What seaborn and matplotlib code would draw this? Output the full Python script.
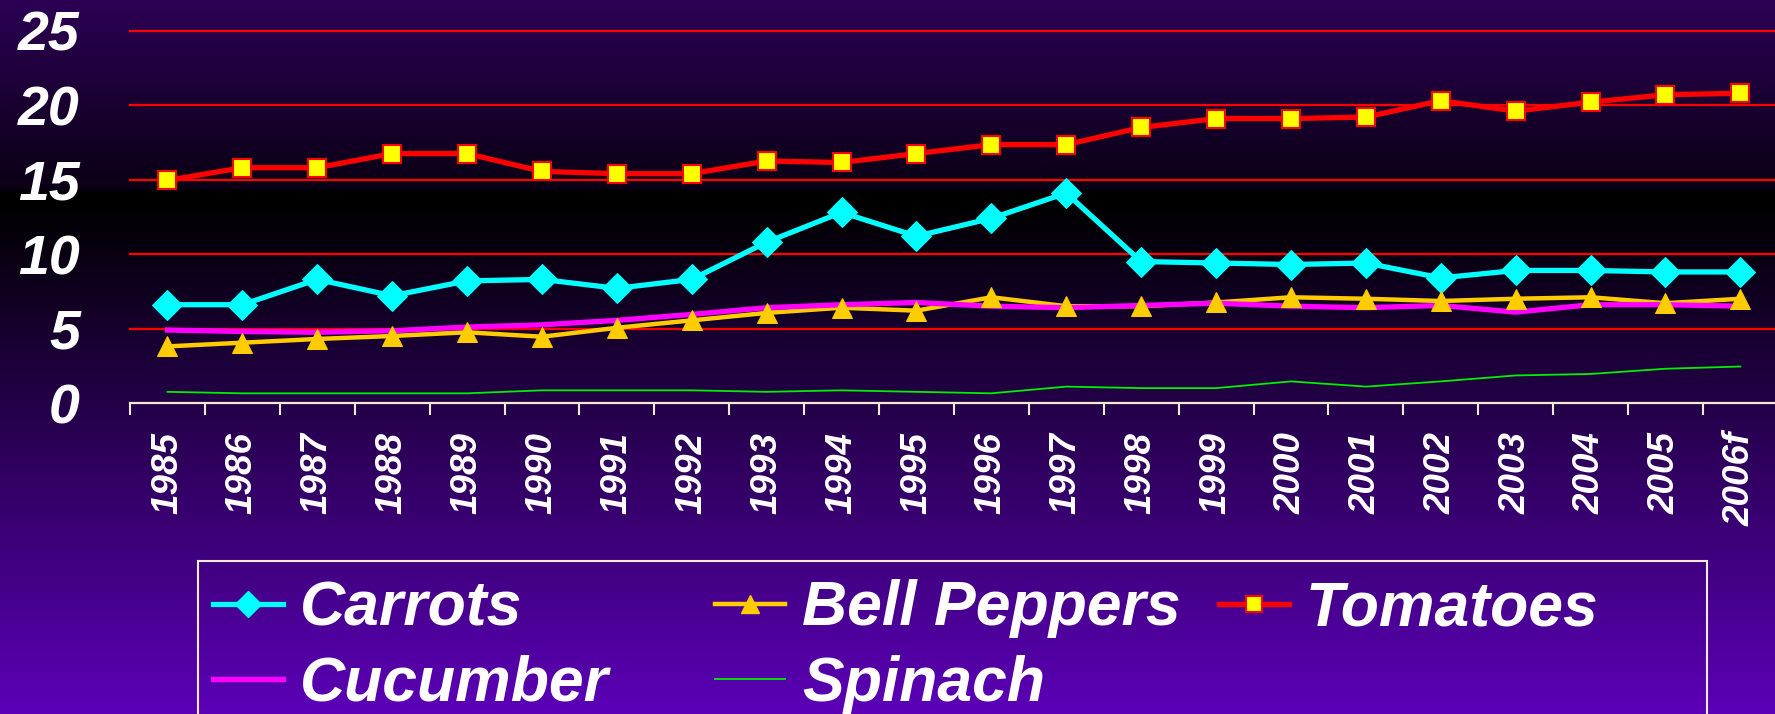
import numpy as np
import pandas as pd
import matplotlib
matplotlib.use("Agg")
import matplotlib.pyplot as plt
from matplotlib.lines import Line2D
from matplotlib.patches import Rectangle
from matplotlib.font_manager import FontProperties
import seaborn as sns

# ---- data ----
years = ["1985", "1986", "1987", "1988", "1989", "1990", "1991", "1992", "1993", "1994", "1995",
         "1996", "1997", "1998", "1999", "2000", "2001", "2002", "2003", "2004", "2005", "2006f"]
carrots = [6.6, 6.6, 8.3, 7.2, 8.2, 8.3, 7.7, 8.3, 10.8, 12.8, 11.2, 12.4, 14.1, 9.5,
           9.4, 9.3, 9.4, 8.4, 8.9, 8.9, 8.8, 8.8]
bell_peppers = [3.8, 4.05, 4.3, 4.5, 4.75, 4.45, 5.05, 5.55, 6.05, 6.4, 6.2, 7.1, 6.5, 6.5,
                6.75, 7.1, 7.0, 6.85, 7.0, 7.1, 6.7, 7.0]
tomatoes = [14.95, 15.8, 15.8, 16.75, 16.75, 15.55, 15.4, 15.4, 16.25, 16.15, 16.75, 17.35,
            17.35, 18.5, 19.1, 19.1, 19.2, 20.3, 19.6, 20.2, 20.7, 20.8]
cucumber = [4.9, 4.8, 4.75, 4.85, 5.1, 5.25, 5.55, 5.95, 6.4, 6.6, 6.75, 6.5, 6.4, 6.55,
            6.7, 6.5, 6.4, 6.55, 6.1, 6.6, 6.6, 6.5]
spinach = [0.75, 0.65, 0.65, 0.65, 0.65, 0.85, 0.85, 0.85, 0.75, 0.85, 0.75, 0.65, 1.1, 1.0,
           1.0, 1.45, 1.1, 1.45, 1.85, 1.95, 2.3, 2.45]
y_ticks = [0, 5, 10, 15, 20, 25]

# ---- figure ----
W, H, DPI = 1775, 714, 100
fig = plt.figure(figsize=(W / DPI, H / DPI), dpi=DPI)

# background gradient
bg = fig.add_axes([0, 0, 1, 1], zorder=-10)
c_top = np.array([0x2c, 0x00, 0x54]) / 255
c_mid = np.array([0x0a, 0x00, 0x14]) / 255
c_bot = np.array([0x5c, 0x00, 0xb8]) / 255
img = np.zeros((H, 1, 3))
for r in range(H):
    if r < 190:
        t = r / 190
        img[r, 0] = c_top * (1 - t) + c_mid * t
    elif r < 205:
        img[r, 0] = 0
    else:
        t = (r - 205) / (H - 205)
        img[r, 0] = c_bot * t
bg.imshow(img, aspect="auto", extent=(0, 1, 0, 1))
bg.set_axis_off()

left = 130 / W
step = 74.9 / W
bottom = 1 - 403 / H
top = 1 - 30.7 / H
ax = fig.add_axes([left, bottom, step * 22, top - bottom])
ax.set_facecolor("none")

x = np.arange(len(years))
df = pd.DataFrame({"x": x, "Carrots": carrots, "Bell Peppers": bell_peppers,
                   "Tomatoes": tomatoes, "Cucumber": cucumber, "Spinach": spinach})

CYAN, GOLD, RED, MAG, GREEN = "#00FFFF", "#FFCC00", "#FF0000", "#FF00FF", "#00F000"

sns.lineplot(data=df, x="x", y="Carrots", ax=ax, color=CYAN, lw=3.8, marker="D",
             markersize=15, markeredgecolor=CYAN, zorder=3)
sns.lineplot(data=df, x="x", y="Bell Peppers", ax=ax, color=GOLD, lw=3.2, zorder=2)
sns.lineplot(data=df, x="x", y="Tomatoes", ax=ax, color=RED, lw=3.8, marker="s",
             markersize=13, markerfacecolor="#FFFF00", markeredgecolor=RED,
             markeredgewidth=1.5, zorder=3)
sns.lineplot(data=df, x="x", y="Cucumber", ax=ax, color=MAG, lw=3.8, zorder=2.5)
sns.lineplot(data=df, x="x", y="Bell Peppers", ax=ax, color=GOLD, lw=0, marker="^",
             markersize=15, markeredgecolor=GOLD, zorder=3.5)
sns.lineplot(data=df, x="x", y="Spinach", ax=ax, color=GREEN, lw=1.3, zorder=3)

ax.set_xlim(-0.5, len(years) - 0.5)
ax.set_ylim(0, 25)
ax.set_xlabel("")
ax.set_ylabel("")

# grid
ax.set_yticks(y_ticks)
ax.set_yticklabels([str(v) for v in y_ticks])
for v in y_ticks[1:]:
    ax.axhline(v, color="#FF0000", lw=1.6, zorder=1, clip_on=False)

for s in ["left", "right", "top"]:
    ax.spines[s].set_visible(False)
ax.spines["bottom"].set_color("#F2EAD3")
ax.spines["bottom"].set_linewidth(1.6)

tick_font = dict(family="Liberation Sans", weight="bold", style="italic")
ax.set_xticks(x)
ax.set_xticklabels(years, rotation=90, color="white", fontsize=26.5, **tick_font)
ax.set_xticks(np.arange(-0.5, len(years), 1.0), minor=True)
ax.tick_params(axis="x", which="major", length=0, pad=21)
ax.tick_params(axis="x", which="minor", length=8.6, width=1.5, color="#F2EAD3", direction="out")
ax.tick_params(axis="y", length=0, pad=36, labelcolor="white")
for lab in ax.get_yticklabels():
    lab.set_fontsize(40)
    lab.set_fontfamily("Liberation Sans")
    lab.set_fontweight("bold")
    lab.set_fontstyle("italic")

if ax.get_legend() is not None:
    ax.get_legend().remove()

# legend: three column blocks
h_car = Line2D([], [], color=CYAN, lw=3.8, marker="D", markersize=13, markeredgecolor=CYAN)
h_cuc = Line2D([], [], color=MAG, lw=3.8)
h_bel = Line2D([], [], color=GOLD, lw=3.2, marker="^", markersize=13, markeredgecolor=GOLD)
h_spi = Line2D([], [], color=GREEN, lw=1.3)
h_tom = Line2D([], [], color=RED, lw=3.8, marker="s", markersize=11, markerfacecolor="#FFFF00",
               markeredgecolor=RED, markeredgewidth=1.5)

prop = FontProperties(family="Liberation Sans", weight="bold", style="italic", size=45)
columns = [([h_car, h_cuc], ["Carrots", "Cucumber"], 213),
           ([h_bel, h_spi], ["Bell Peppers", "Spinach"], 715),
           ([h_tom], ["Tomatoes"], 1219)]
for handles, labels, xpix in columns:
    leg = fig.legend(handles, labels, ncol=1, loc="upper left",
                     bbox_to_anchor=((xpix - 12.5) / W, 1 - 567 / H),
                     prop=prop, frameon=False, handlelength=1.12, handletextpad=0.27,
                     labelspacing=0.26, borderpad=0.2, borderaxespad=0)
    for t in leg.get_texts():
        t.set_color("white")

fig.patches.append(Rectangle((198 / W, -0.05), (1707 - 198) / W, (1 - 561 / H) + 0.05,
                             transform=fig.transFigure, fill=False, edgecolor="#F2EAD3",
                             lw=1.5, zorder=5))

fig.savefig("out.png", dpi=DPI)
